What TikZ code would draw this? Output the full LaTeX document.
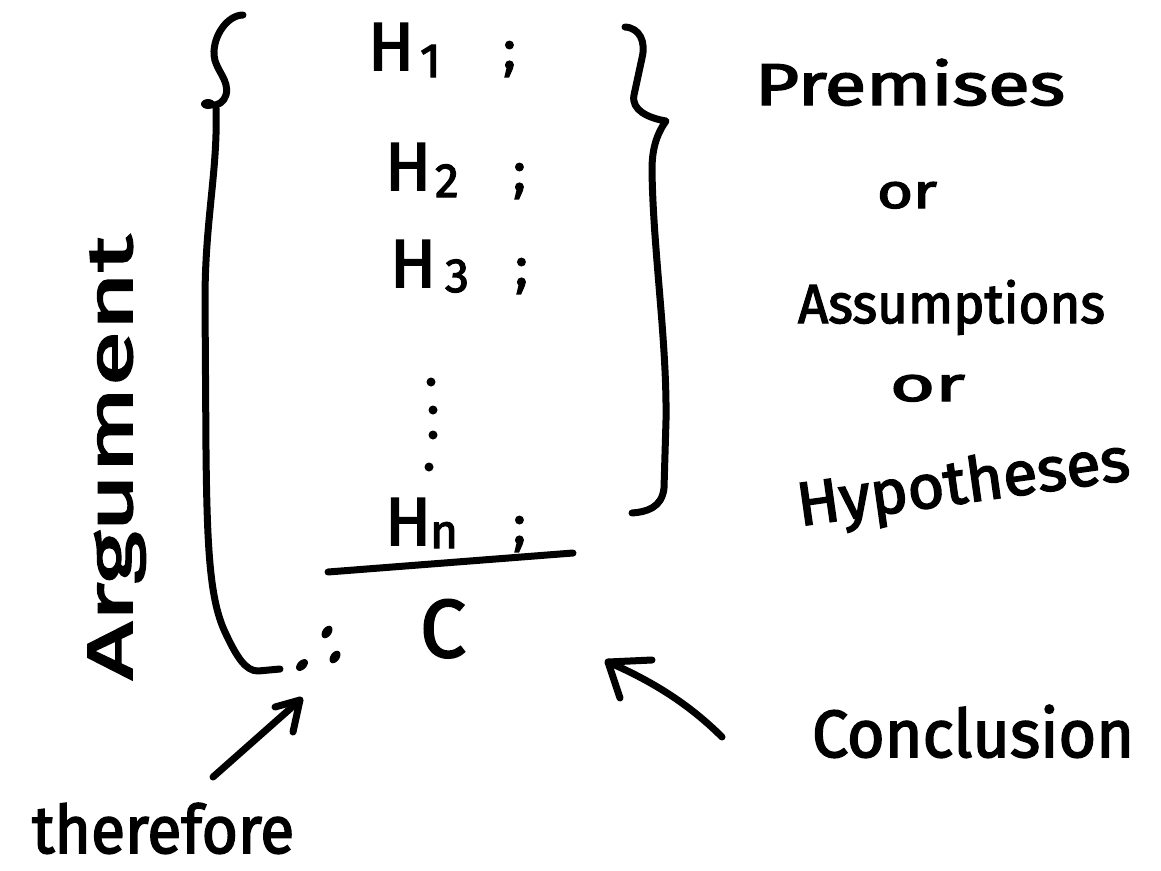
\documentclass[tikz,border=0pt]{standalone}
\usepackage{fontspec}
\setmainfont{Fira Sans}
\newfontfamily\hand{Fira Sans}[FakeBold=2.5]
\usetikzlibrary{calc}
\newcommand{\hwtext}[3]{\resizebox{#1pt}{#2pt}{\hand #3}}
\newcommand{\bigH}{\fontsize{68}{68}\selectfont\hand H}
\newcommand{\subtx}[1]{\fontsize{48}{48}\selectfont\hand #1}
\newcommand{\semi}{\fontsize{54}{54}\selectfont\hand ;}
\begin{document}
\begin{tikzpicture}[x=1pt,y=-1pt,
  ink/.style={line width=7pt,line cap=round,line join=round,black},
  lbl/.style={inner sep=0pt,outer sep=0pt,anchor=base west},
  tdot/.style={fill=black}]
\useasboundingbox (0,0) rectangle (1161,870);
\fill[white] (0,0) rectangle (1161,870);

% premises rows
\node[lbl] (h1) at (368,70) {\bigH};
\node[lbl] (h1s) at (420,77) {\subtx{1}};
\node[lbl] (h1p) at (503,68) {\semi};
\node[lbl] (h2) at (385,190) {\bigH};
\node[lbl] (h2s) at (435,197) {\subtx{2}};
\node[lbl] (h2p) at (513,190) {\semi};
\node[lbl] (h3) at (390,287) {\bigH};
\node[lbl] (h3s) at (445,292) {\subtx{3}};
\node[lbl] (h3p) at (515,285) {\semi};
\node[lbl] (hn) at (385,545) {\bigH};
\node[lbl] (hns) at (430,548) {\subtx{n}};
\node[lbl] (hnp) at (513,543) {\semi};
\fill (431,382) circle (4.5);
\fill (433,410) circle (4.5);
\fill (433,435) circle (4.5);
\fill (429,467) circle (4.5);

% rule and conclusion
\coordinate (rl) at (328,572);
\coordinate (rr) at (573,553);
\draw[ink] (rl) -- (rr);
\node[lbl] (c) at (420,657) {\fontsize{82}{82}\selectfont\hand C};
% therefore sign
\coordinate (thf) at (319,650);
\fill[tdot,rotate around={-35:(327,632)}] (327,632) ellipse (4.5 and 7);
\fill[tdot,rotate around={-35:(335,657)}] (335,657) ellipse (4.5 and 7);
\fill[tdot,rotate around={-45:(302,665)}] (302,665) ellipse (4.5 and 7);

% left brace
\draw[ink] (243,15) .. controls (228,15) and (213,35) .. (214,55)
  .. controls (215,70) and (230,80) .. (226,95)
  .. controls (224,102) and (218,106) .. (211,105);
\fill (208,104) ellipse (7 and 5);
\draw[ink] (216,108) .. controls (218,170) and (205,220) .. (205,300) -- (206,450)
  .. controls (207,550) and (210,600) .. (225,632)
  .. controls (237,658) and (246,671) .. (258,671) -- (280,669);

% right brace
\draw[ink] (625,27) .. controls (640,28) and (646,42) .. (642,58) -- (634,95)
  .. controls (631,110) and (648,118) .. (666,121)
  .. controls (656,135) and (652,150) .. (652,170)
  .. controls (653,250) and (667,340) .. (666,420) -- (664,488)
  .. controls (662,508) and (646,512) .. (632,513);

% side labels
\node[lbl,rotate=90] (arg) at (132,680) {\hwtext{445}{44}{Argument}};
\node[lbl] (prem) at (755,105) {\hwtext{310}{46}{Premises}};
\node[lbl] (or1) at (877,208) {\hwtext{60}{26}{or}};
\node[lbl] (assum) at (798,323) {\hwtext{307}{43}{Assumptions}};
\node[lbl] (or2) at (890,401) {\hwtext{75}{26}{or}};
\node[lbl,rotate=8] (hyp) at (800,526) {\hwtext{335}{46}{Hypotheses}};
\node[lbl] (concl) at (812,757) {\hwtext{322}{52}{Conclusion}};
\node[lbl] (there) at (32,853) {\hwtext{262}{50}{therefore}};

% arrows
\coordinate (a1tail) at (213,777);
\coordinate (a1tip) at (300,700);
\draw[ink] (a1tail) -- (a1tip);
\draw[ink] ($(a1tip)+(-25,7)$) -- (a1tip) -- ($(a1tip)+(-7,32)$);
\coordinate (a2tail) at (722,737);
\coordinate (a2tip) at (608,662);
\draw[ink] (a2tail) .. controls (685,700) and (645,678) .. (a2tip);
\draw[ink] ($(a2tip)+(44,-2)$) -- (a2tip) -- ($(a2tip)+(12,36)$);
\end{tikzpicture}
\end{document}
